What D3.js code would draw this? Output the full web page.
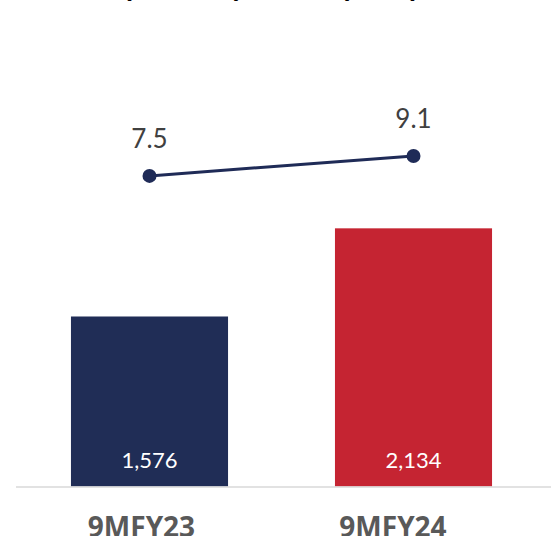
<!DOCTYPE html>
<html>
<head>
<meta charset="utf-8">
<script src="https://cdn.jsdelivr.net/npm/d3@7"></script>
<style>
  html, body { margin: 0; padding: 0; background: #fff; }
  svg { display: block; }
</style>
</head>
<body>
<svg id="chart" width="551" height="536"></svg>
<script>
// Categories and series
const categories = ["9MFY23", "9MFY24"];
const barValues = [1576, 2134];
const lineValues = [7.5, 9.1];
const barLabels = ["1,576", "2,134"];
const lineLabels = ["7.5", "9.1"];
const barColors = ["#202d56", "#c52432"];
const titleText = "(₹ Crore) & RoA (in %)";

const W = 551, H = 536;
const svg = d3.select("#chart");
const baseY = 486.5, topY = 12.5;

// Scales
const x = d3.scaleBand().domain(categories).range([17.5, 545.5])
  .paddingInner(0.405).paddingOuter(0.2025);
const y = d3.scaleLinear().domain([500, 3500]).range([baseY, topY]);
const y2 = d3.scaleLinear().domain([-17.4, 20.6]).range([baseY, topY]);
const labelX = d3.scalePoint().domain(categories).range([141, 392.5]);

// Title (second line, mostly above the visible area)
svg.append("text")
  .attr("x", 271).attr("y", -3)
  .attr("text-anchor", "middle")
  .attr("font-family", "'Open Sans', sans-serif")
  .attr("font-weight", 700)
  .attr("font-size", 28)
  .attr("fill", "#000")
  .text(titleText);

// Bars
svg.selectAll("rect.bar").data(categories).enter().append("rect")
  .attr("class", "bar")
  .attr("x", d => x(d))
  .attr("width", x.bandwidth())
  .attr("y", (d, i) => y(barValues[i]))
  .attr("height", (d, i) => baseY - y(barValues[i]))
  .attr("fill", (d, i) => barColors[i]);

// Bar value labels
svg.selectAll("text.barlabel").data(categories).enter().append("text")
  .attr("class", "barlabel")
  .attr("x", d => x(d) + x.bandwidth() / 2)
  .attr("y", baseY - 19)
  .attr("text-anchor", "middle")
  .attr("font-family", "Lato, sans-serif")
  .attr("font-size", 22)
  .attr("fill", "#fff")
  .text((d, i) => barLabels[i]);

// Baseline
svg.append("line")
  .attr("x1", 16).attr("x2", W)
  .attr("y1", baseY + 0.5).attr("y2", baseY + 0.5)
  .attr("stroke", "#d9d9d9").attr("stroke-width", 1.5);

// Line series
const cx = d => x(d) + x.bandwidth() / 2;
const line = d3.line().x(d => cx(d)).y((d, i) => y2(lineValues[i]));
svg.append("path")
  .datum(categories)
  .attr("d", line)
  .attr("fill", "none")
  .attr("stroke", "#1f2b57")
  .attr("stroke-width", 3);

svg.selectAll("circle.dot").data(categories).enter().append("circle")
  .attr("class", "dot")
  .attr("cx", d => cx(d))
  .attr("cy", (d, i) => y2(lineValues[i]))
  .attr("r", 7)
  .attr("fill", "#1f2b57");

svg.selectAll("text.linelabel").data(categories).enter().append("text")
  .attr("class", "linelabel")
  .attr("x", d => cx(d))
  .attr("y", (d, i) => y2(lineValues[i]) - 27.5)
  .attr("text-anchor", "middle")
  .attr("font-family", "Lato, sans-serif")
  .attr("font-size", 26)
  .attr("fill", "#404040")
  .text((d, i) => lineLabels[i]);

// Category axis
const axis = svg.append("g")
  .attr("transform", `translate(0, ${baseY})`)
  .call(d3.axisBottom(labelX).tickSize(0).tickPadding(31));
axis.select(".domain").remove();
axis.selectAll("text")
  .attr("font-family", "'Open Sans', sans-serif")
  .attr("font-weight", 700)
  .attr("font-size", 28)
  .attr("fill", "#595959");
</script>
</body>
</html>
